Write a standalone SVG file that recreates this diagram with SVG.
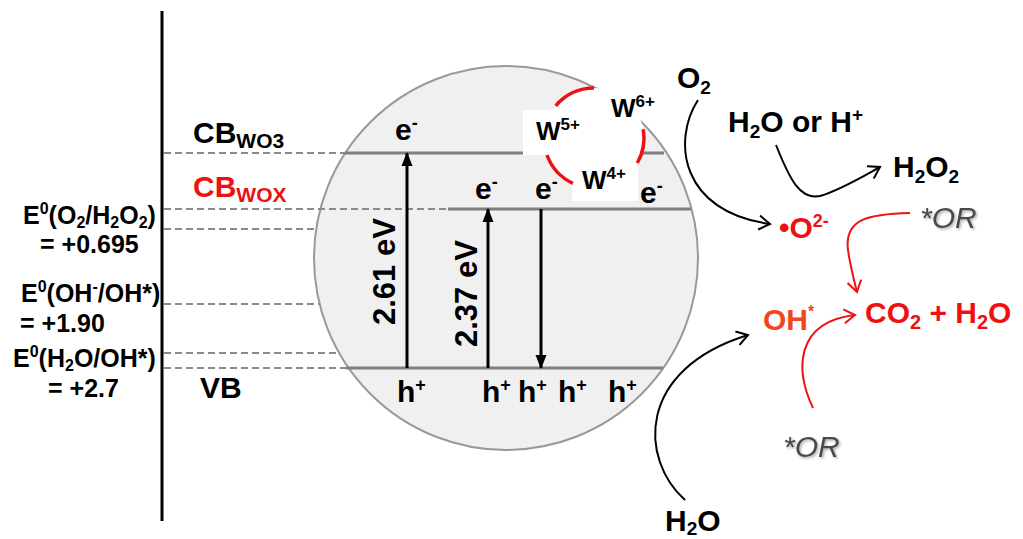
<svg xmlns="http://www.w3.org/2000/svg" width="1023" height="539" viewBox="0 0 1023 539">
<style>
text{font-family:"Liberation Sans",Arial,sans-serif;font-weight:bold;fill:#000}
.lbl{font-size:30px}
.eq{font-size:25px}
.red{fill:#ee1111}
.orr{fill:#f2461a}
.or{font-style:italic;font-weight:normal;fill:#4a4a4a;font-size:30px}
.dash{stroke:#8a8a8a;stroke-width:2;stroke-dasharray:7,4;fill:none}
.band{stroke:#7f7f7f;stroke-width:3;fill:none}
.bk{stroke:#000;stroke-width:2;fill:none}
.rd{stroke:#ee1111;stroke-width:2;fill:none}
.vt{stroke:#000;stroke-width:3;fill:none}
.ring{stroke:#ee1111;stroke-width:3.5;fill:none}
</style>
<defs>
<marker id="chevK" markerUnits="userSpaceOnUse" markerWidth="16" markerHeight="16" refX="13" refY="8" orient="auto">
<path d="M2,1 L13,8 L2,15" stroke="#000" stroke-width="2" fill="none"/>
</marker>
<marker id="chevR" markerUnits="userSpaceOnUse" markerWidth="16" markerHeight="16" refX="13" refY="8" orient="auto">
<path d="M2,1 L13,8 L2,15" stroke="#ee1111" stroke-width="2" fill="none"/>
</marker>
<marker id="tri" markerUnits="userSpaceOnUse" markerWidth="14" markerHeight="14" refX="13" refY="7" orient="auto">
<path d="M0,1.5 L14,7 L0,12.5 Z" fill="#000"/>
</marker>
<filter id="shd" x="-10%" y="-10%" width="130%" height="140%">
<feDropShadow dx="1.5" dy="1.5" stdDeviation="1" flood-color="#999" flood-opacity="0.8"/>
</filter>
</defs>

<!-- energy axis -->
<line x1="162" y1="11" x2="162" y2="521" stroke="#000" stroke-width="3"/>

<!-- particle -->
<g id="particle">
<circle cx="506" cy="258" r="192" fill="#f0f0f0" stroke="#999" stroke-width="2"/>
</g>

<g id="levels">
<line class="dash" x1="164" y1="153" x2="345" y2="153"/>
<line class="band" x1="345" y1="153" x2="664" y2="153"/>
<line class="dash" x1="164" y1="209" x2="448" y2="209"/>
<line class="band" x1="448" y1="209" x2="691" y2="209"/>
<line class="dash" x1="164" y1="229" x2="316" y2="229"/>
<line class="dash" x1="164" y1="304" x2="319" y2="304"/>
<line class="dash" x1="164" y1="353" x2="338" y2="353"/>
<line class="dash" x1="164" y1="368" x2="346" y2="368"/>
<line class="band" x1="346" y1="368" x2="663" y2="368"/>
</g>

<!-- W redox ring -->
<g id="w-ring">
<circle cx="594" cy="138" r="50" fill="#fff"/>
<rect x="523" y="110" width="60" height="45" fill="#fff"/>
<rect x="572" y="165" width="66" height="36" fill="#fff"/>
<path class="ring" d="M594,88 A50,50 0 0 0 555.7,105.9"/>
<path class="ring" d="M547,155 A50,50 0 0 0 572.9,183.3"/>
<path class="ring" d="M643.2,129.3 A50,50 0 0 1 637.3,163"/>
<text x="536" y="140" font-size="26">W<tspan font-size="17" dy="-10">5+</tspan></text>
<text x="611" y="117" font-size="26">W<tspan font-size="17" dy="-10">6+</tspan></text>
<text x="582" y="189" font-size="26">W<tspan font-size="17" dy="-10">4+</tspan></text>
</g>

<!-- left labels -->
<g id="cb-wo3"><text class="lbl" x="193" y="143">CB<tspan font-size="21" dy="5">WO3</tspan></text></g>
<g id="cb-wox"><text class="lbl red" x="193" y="197">CB<tspan font-size="21" dy="5">WOX</tspan></text></g>
<g id="vb"><text class="lbl" x="200" y="398">VB</text></g>
<g id="e-o2-h2o2">
<text class="eq" x="23" y="224">E<tspan font-size="16" dy="-10">0</tspan><tspan dy="10">(O</tspan><tspan font-size="16" dy="4">2</tspan><tspan dy="-4">/H</tspan><tspan font-size="16" dy="4">2</tspan><tspan dy="-4">O</tspan><tspan font-size="16" dy="4">2</tspan><tspan dy="-4">)</tspan></text>
<text class="eq" x="40" y="253">= +0.695</text>
</g>
<g id="e-oh-oh">
<text class="eq" x="21" y="302">E<tspan font-size="16" dy="-10">0</tspan><tspan dy="10">(OH</tspan><tspan font-size="16" dy="-10">-</tspan><tspan dy="10">/OH*)</tspan></text>
<text class="eq" x="20" y="332">= +1.90</text>
</g>
<g id="e-h2o-oh">
<text class="eq" x="13" y="367">E<tspan font-size="16" dy="-10">0</tspan><tspan dy="10">(H</tspan><tspan font-size="16" dy="4">2</tspan><tspan dy="-4">O/OH*)</tspan></text>
<text class="eq" x="48" y="397">= +2.7</text>
</g>

<!-- carriers -->
<g id="electrons">
<text class="lbl" x="395" y="140">e<tspan font-size="18" dy="-11">-</tspan></text>
<text class="lbl" x="475" y="199">e<tspan font-size="18" dy="-11">-</tspan></text>
<text class="lbl" x="535" y="199">e<tspan font-size="18" dy="-11">-</tspan></text>
<text class="lbl" x="640" y="203">e<tspan font-size="18" dy="-11">-</tspan></text>
</g>
<g id="holes">
<text class="lbl" x="397" y="402">h<tspan font-size="18" dy="-11">+</tspan></text>
<text class="lbl" x="482" y="402">h<tspan font-size="18" dy="-11">+</tspan></text>
<text class="lbl" x="518" y="402">h<tspan font-size="18" dy="-11">+</tspan></text>
<text class="lbl" x="558" y="402">h<tspan font-size="18" dy="-11">+</tspan></text>
<text class="lbl" x="608" y="402">h<tspan font-size="18" dy="-11">+</tspan></text>
</g>
<g id="gap-261"><text font-size="31" transform="translate(395,325) rotate(-90)">2.61 eV</text></g>
<g id="gap-237"><text font-size="31" transform="translate(477,347) rotate(-90)">2.37 eV</text></g>

<!-- right-side species -->
<g id="o2"><text class="lbl" x="677" y="88">O<tspan font-size="19" dy="6">2</tspan></text></g>
<g id="h2o-or-h"><text class="lbl" x="728" y="132">H<tspan font-size="19" dy="6">2</tspan><tspan dy="-6">O or H</tspan><tspan font-size="19" dy="-11">+</tspan></text></g>
<g id="h2o2"><text class="lbl" x="893" y="177">H<tspan font-size="19" dy="6">2</tspan><tspan dy="-6">O</tspan><tspan font-size="19" dy="6">2</tspan></text></g>
<g id="superoxide"><text class="lbl red" x="779" y="238" font-size="29">•O<tspan font-size="18" dy="-11">2-</tspan></text></g>
<g id="or-top"><text class="or" x="920" y="228" filter="url(#shd)">*OR</text></g>
<g id="oh-radical"><text class="lbl orr" x="763" y="330" font-size="29">OH<tspan font-size="16" dy="-13">*</tspan></text></g>
<g id="co2-h2o"><text class="lbl red" x="865" y="323" font-size="31">CO<tspan font-size="20" dy="6">2</tspan><tspan dy="-6"> + H</tspan><tspan font-size="20" dy="6">2</tspan><tspan dy="-6">O</tspan></text></g>
<g id="or-bottom"><text class="or" x="783" y="457" filter="url(#shd)">*OR</text></g>
<g id="h2o-bottom"><text class="lbl" x="665" y="531">H<tspan font-size="19" dy="4">2</tspan><tspan dy="-4">O</tspan></text></g>

<!-- connectors -->
<g id="connectors">
<line class="vt" x1="407" y1="368" x2="407" y2="153" marker-end="url(#tri)"/>
<line class="vt" x1="488" y1="368" x2="488" y2="209" marker-end="url(#tri)"/>
<line class="vt" x1="541" y1="209" x2="541" y2="368" marker-end="url(#tri)"/>
<path class="bk" d="M698,100 C672,140 680,212 770,224" marker-end="url(#chevK)"/>
<path class="bk" d="M776,145 C790,180 800,200 820,196 C840,190 860,178 880,167" marker-end="url(#chevK)"/>
<path class="bk" d="M685,500 C640,460 635,370 748,335" marker-end="url(#chevK)"/>
<path class="rd" d="M910,213 C870,214 844,218 848,250 C850,265 854,280 857,292" marker-end="url(#chevR)"/>
<path class="rd" d="M813,408 C795,370 795,322 855,315" marker-end="url(#chevR)"/>
</g>
</svg>
